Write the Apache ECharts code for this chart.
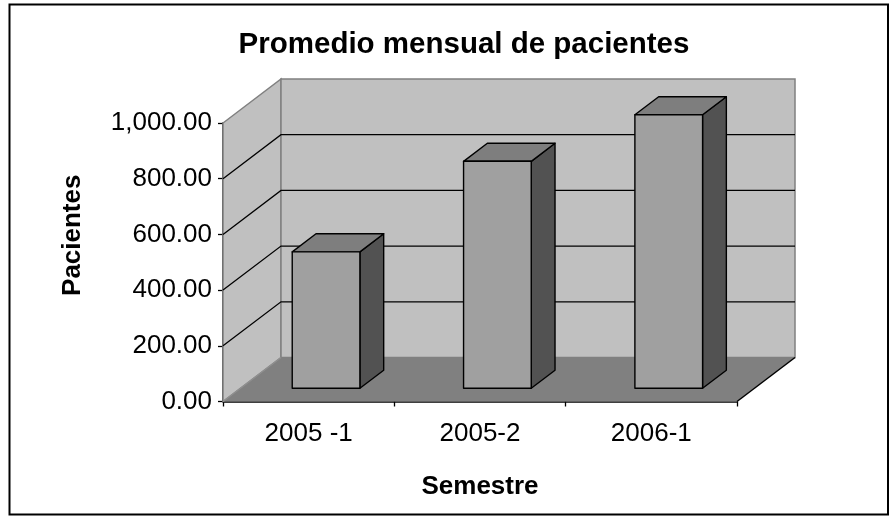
<!DOCTYPE html>
<html>
<head>
<meta charset="utf-8">
<script src="https://cdn.jsdelivr.net/npm/echarts@6/dist/echarts.min.js"></script>
<style>
html,body{margin:0;padding:0;background:#fff;}
#c{width:894px;height:518px;}
</style>
</head>
<body>
<div id="c"></div>
<script>
// ---- data ----
const categories = ['2005 -1', '2005-2', '2006-1'];
const pacientes = [490, 815, 982];
const yTickValues = [0, 200, 400, 600, 800, 1000];
const titleText = 'Promedio mensual de pacientes';
const xAxisTitle = 'Semestre';
const yAxisTitle = 'Pacientes';

// ---- 3D look (style constants) ----
const DX = 58, DY = -44;          // full depth offset of the walls / floor
const BAR_FRONT = 0.30, BAR_BACK = 0.71;  // bar depth position (fraction of depth)
const BAR_W = 0.395;              // bar width as fraction of category band

function fmt(v) {
  const s = Number(v).toFixed(2);
  const parts = s.split('.');
  parts[0] = parts[0].replace(/\B(?=(\d{3})+(?!\d))/g, ',');
  return parts.join('.');
}

const chart = echarts.init(document.getElementById('c'), null, {renderer: 'canvas'});
const FONT = 'Liberation Sans, Arial, sans-serif';

function wallsRender(params, api) {
  const band = api.size([1, 0])[0];
  const c0 = api.coord([0, 0]);
  const cLast = api.coord([categories.length - 1, 0]);
  const xL = c0[0] - band / 2, xR = cLast[0] + band / 2;
  const yMinV = yTickValues[0], yMaxV = yTickValues[yTickValues.length - 1];
  const y0 = api.coord([0, yMinV])[1];
  const yTop = api.coord([0, yMaxV])[1];
  const children = [];
  // floor
  children.push({type: 'polygon', shape: {points: [[xL, y0], [xR, y0], [xR + DX, y0 + DY], [xL + DX, y0 + DY]]},
    style: {fill: '#808080', stroke: null}});
  // side wall
  children.push({type: 'polygon', shape: {points: [[xL, y0], [xL, yTop], [xL + DX, yTop + DY], [xL + DX, y0 + DY]]},
    style: {fill: '#C0C0C0', stroke: '#808080', lineWidth: 1.5}});
  // back wall
  children.push({type: 'rect', shape: {x: xL + DX, y: yTop + DY, width: xR - xL, height: y0 - yTop},
    style: {fill: '#C0C0C0', stroke: '#808080', lineWidth: 1.5}});
  // floor edges
  children.push({type: 'line', shape: {x1: xL, y1: y0, x2: xL + DX, y2: y0 + DY}, style: {stroke: '#909090', lineWidth: 1.2}});
  children.push({type: 'line', shape: {x1: xR, y1: y0, x2: xR + DX, y2: y0 + DY}, style: {stroke: '#000', lineWidth: 1.5}});
  // gridlines on walls
  for (let i = 1; i < yTickValues.length - 1; i++) {
    const y = api.coord([0, yTickValues[i]])[1];
    children.push({type: 'polyline', shape: {points: [[xL, y], [xL + DX, y + DY], [xR + DX, y + DY]]},
      style: {stroke: '#000', lineWidth: 1.3, fill: null}});
  }
  return {type: 'group', children: children};
}

function barRender(params, api) {
  const x = api.value(0), v = api.value(1);
  const p0 = api.coord([x, 0]);
  const p1 = api.coord([x, v]);
  const bw = api.size([1, 0])[0] * BAR_W;
  const xl = p0[0] - bw / 2, xr = p0[0] + bw / 2;
  const fx = DX * BAR_FRONT, fy = DY * BAR_FRONT;
  const bx = DX * BAR_BACK, by = DY * BAR_BACK;
  const yt = p1[1], yb = p0[1];
  const st = {stroke: '#000', lineWidth: 1.4, lineJoin: 'round'};
  return {type: 'group', children: [
    {type: 'polygon', shape: {points: [[xr + fx, yt + fy], [xr + bx, yt + by], [xr + bx, yb + by], [xr + fx, yb + fy]]},
      style: Object.assign({fill: '#525252'}, st)},
    {type: 'polygon', shape: {points: [[xl + fx, yt + fy], [xr + fx, yt + fy], [xr + bx, yt + by], [xl + bx, yt + by]]},
      style: Object.assign({fill: '#7E7E7E'}, st)},
    {type: 'rect', shape: {x: xl + fx, y: yt + fy, width: bw, height: yb - yt},
      style: Object.assign({fill: '#A0A0A0'}, st)}
  ]};
}

const option = {
  backgroundColor: '#fff',
  animation: false,
  title: {
    text: titleText, left: 459, textAlign: 'center', top: 25,
    textStyle: {fontFamily: FONT, fontSize: 29.5, fontWeight: 'bold', color: '#000'}
  },
  grid: {left: 223, top: 123, width: 514, height: 278.5, containLabel: false},
  xAxis: {
    type: 'category', data: categories,
    name: xAxisTitle, nameLocation: 'middle', nameGap: 72,
    nameTextStyle: {fontFamily: FONT, fontSize: 26, fontWeight: 'bold', color: '#000'},
    axisLine: {show: true, lineStyle: {color: '#000', width: 1.5}},
    axisTick: {show: true, length: 5, lineStyle: {color: '#000', width: 1.3}},
    axisLabel: {fontFamily: FONT, fontSize: 26, color: '#000', margin: 19},
    splitLine: {show: false}
  },
  yAxis: {
    type: 'value', min: yTickValues[0], max: yTickValues[yTickValues.length - 1],
    interval: yTickValues[1] - yTickValues[0],
    name: yAxisTitle, nameLocation: 'middle', nameGap: 137, nameRotate: 90,
    nameTextStyle: {fontFamily: FONT, fontSize: 26, fontWeight: 'bold', color: '#000', padding: [0, 0, 0, 54]},
    axisLine: {show: true, lineStyle: {color: '#000', width: 1.5}},
    axisTick: {show: true, length: 5, lineStyle: {color: '#000', width: 1.3}},
    axisLabel: {fontFamily: FONT, fontSize: 26, color: '#000', margin: 11, formatter: fmt},
    splitLine: {show: false}
  },
  graphic: [{
    type: 'rect', shape: {x: 9.5, y: 4.5, width: 878.5, height: 510},
    style: {fill: null, stroke: '#000', lineWidth: 2}, z: 100
  }],
  series: [
    {type: 'custom', renderItem: wallsRender, data: [[0, 0]], z: 1, silent: true, clip: false},
    {type: 'custom', renderItem: barRender, z: 3, clip: false,
      data: pacientes.map((v, i) => [i, v]), encode: {x: 0, y: 1}}
  ]
};
chart.setOption(option);
</script>
</body>
</html>
